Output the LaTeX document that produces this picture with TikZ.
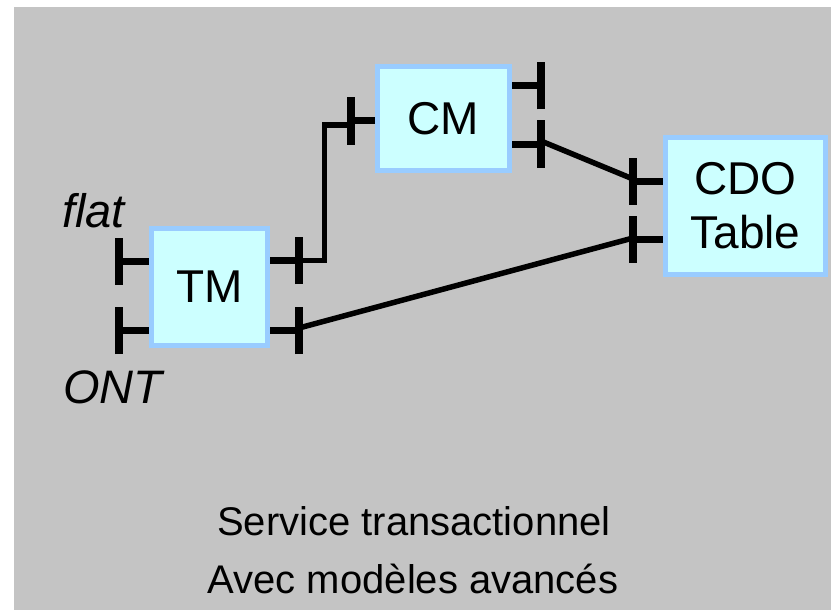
\documentclass[tikz,border=0pt]{standalone}
\usepackage{fontspec}
\setmainfont{Liberation Sans}
\begin{document}
\begin{tikzpicture}[x=1pt,y=-1pt,
  box/.style={draw=boxline, fill=boxfill, line width=5pt, inner sep=0pt, align=center,
    font=\fontsize{46}{54}\selectfont},
  stub/.style={line width=7pt},
  bar/.style={line width=8pt},
  wire/.style={line width=5.5pt, line join=miter},
  lbl/.style={inner sep=0pt, font=\fontsize{47}{52}\selectfont\itshape},
  caption/.style={inner sep=0pt, font=\fontsize{40}{58}\selectfont}]
\definecolor{bg}{RGB}{196,196,196}
\definecolor{boxline}{RGB}{153,204,255}
\definecolor{boxfill}{RGB}{204,255,255}
\useasboundingbox (0,0) rectangle (831,610);
\fill[bg] (14,7) rectangle (831,610);

% boxes
\node[box, minimum width=116pt, minimum height=117pt] (TM) at (209.5,287) {TM};
\node[box, minimum width=132pt, minimum height=104pt] (CM) at (443.5,118.5) {CM};
\node[box, minimum width=160pt, minimum height=137pt] (CDO) at (745.5,206) {CDO\\Table};

% port coordinates
\coordinate (tml1) at (119,261);
\coordinate (tml2) at (119,330.5);
\coordinate (tmr1) at (299,260.5);
\coordinate (tmr2) at (299,330.5);
\coordinate (cml) at (351,121);
\coordinate (cmr1) at (541,86);
\coordinate (cmr2) at (541,144);
\coordinate (cdo1) at (633,181);
\coordinate (cdo2) at (633,239);

% stubs
\foreach \p in {tml1,tml2}{\draw[stub] (\p) -- (TM.west |- \p);}
\foreach \p in {tmr1,tmr2}{\draw[stub] (\p) -- (TM.east |- \p);}
\draw[stub] (cml) -- (CM.west |- cml);
\foreach \p in {cmr1,cmr2}{\draw[stub] (\p) -- (CM.east |- \p);}
\foreach \p in {cdo1,cdo2}{\draw[stub] (\p) -- (CDO.west |- \p);}

% bars
\foreach \p in {tml1,tml2,tmr1,tmr2,cml,cmr1,cmr2,cdo1,cdo2}{
  \draw[bar] ([yshift=-23.5pt]\p) -- ([yshift=23.5pt]\p);}

% connectors
\coordinate (k1) at (324.5,260.5);
\coordinate (k2) at (324.5,125);
\draw[wire] (tmr1) -- (k1) -- (k2) -- (k2 -| cml);
\draw[wire] ([yshift=3pt]cmr2) -- ([yshift=2pt]cdo1);
\draw[wire] ([yshift=2.5pt]tmr2) -- ([yshift=1pt]cdo2);

% labels
\node[lbl, anchor=base west] (flat) at (62,227) {flat};
\node[lbl, anchor=base west] (ont) at (63,403) {ONT};
\node[caption, anchor=base] (cap1) at (414,535) {Service transactionnel};
\node[caption, anchor=base] (cap2) at (413,593) {Avec modèles avancés};
\end{tikzpicture}
\end{document}
